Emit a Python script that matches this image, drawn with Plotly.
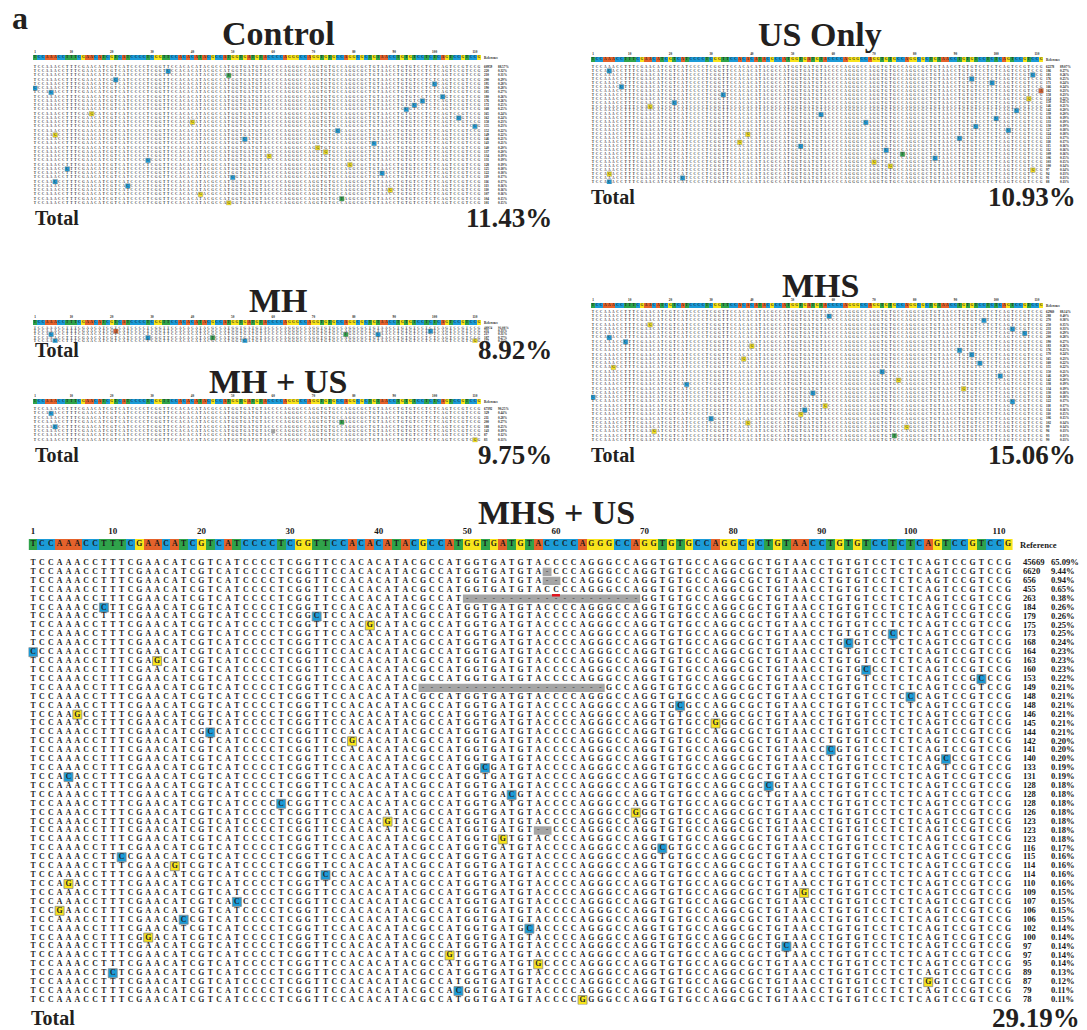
import plotly.graph_objects as go

W, H = 1087, 1030
FONT = "Liberation Serif"

# ------------------------------------------------------------------ data
REF_SEQ = ("TCCAAACCTTTCGAACATCGTCATCCCCTCGGTTCCACACATACGCCATG"
           "GTGATGTACCCCAGGGCCAGGTGTGCCAGGCGCTGTAACCTGTGTCCTCTCAGTCCGTCCG")
TICK_POS = [1, 10, 20, 30, 40, 50, 60, 70, 80, 90, 100, 110]

# MHS + US
mhsus_counts = [45669, 6620, 656, 455, 263, 184, 179, 175, 173, 168, 164, 163, 160, 153, 149,
                148, 148, 146, 145, 144, 142, 141, 140, 133, 131, 128, 128, 128, 126, 123,
                123, 123, 116, 115, 114, 114, 110, 109, 107, 106, 106, 102, 100, 97, 97,
                95, 89, 87, 79, 78]
mhsus_pcts = ["65.09%", "9.44%", "0.94%", "0.65%", "0.38%", "0.26%", "0.26%", "0.25%", "0.25%",
              "0.24%", "0.23%", "0.23%", "0.23%", "0.22%", "0.21%", "0.21%", "0.21%", "0.21%",
              "0.21%", "0.21%", "0.20%", "0.20%", "0.20%", "0.19%", "0.19%", "0.18%", "0.18%",
              "0.18%", "0.18%", "0.18%", "0.18%", "0.18%", "0.17%", "0.16%", "0.16%", "0.16%",
              "0.16%", "0.15%", "0.15%", "0.15%", "0.15%", "0.14%", "0.14%", "0.14%", "0.14%",
              "0.14%", "0.13%", "0.12%", "0.11%", "0.11%"]
mhsus_sub_rows = [6, 7, 8, 9, 10, 11, 12, 13, 14, 16, 17, 18, 19, 20, 21, 22, 23, 24, 25, 26,
                  27, 28, 29, 30, 32, 33, 34, 35, 36, 37, 38, 39, 40, 41, 42, 43, 44, 45, 46,
                  47, 48, 49, 50]
mhsus_sub_pos = [9, 33, 39, 98, 93, 1, 15, 95, 108, 100, 74, 6, 78, 21, 37, 91, 104, 52, 5, 84,
                 55, 29, 69, 41, 54, 72, 11, 17, 34, 5, 88, 24, 4, 18, 57, 14, 86, 48, 58,
                 10, 102, 49, 63]
mhsus_sub_base = ["C", "C", "G", "C", "C", "C", "G", "C", "C", "C", "C", "G", "G", "C", "G", "C",
                  "C", "C", "C", "C", "C", "C", "G", "G", "G", "C", "C", "G", "C", "G", "G", "C",
                  "G", "C", "C", "G", "C", "G", "G", "C", "G", "C", "G"]
mhsus_del_rows = [2, 3, 5, 15, 31]
mhsus_del_start = [59, 59, 50, 45, 58]
mhsus_del_end = [59, 60, 69, 65, 59]
mhsus_ins_rows = [4]
mhsus_ins_pos = [60]
mhsus_total = "29.19%"

# Control (approximate)
control_counts = [60959] + [220, 210, 200, 195, 190, 185, 180, 176, 172, 168, 165, 162, 158, 155,
                            152, 149, 146, 143, 140, 137, 134, 131, 128, 125, 122, 119, 116, 113,
                            110, 107, 104, 101]
control_pcts = ["88.57%"] + ["0.32%", "0.31%", "0.29%", "0.28%", "0.28%", "0.27%", "0.26%", "0.26%",
                             "0.25%", "0.25%", "0.24%", "0.24%", "0.23%", "0.23%", "0.22%", "0.22%",
                             "0.21%", "0.21%", "0.20%", "0.20%", "0.19%", "0.19%", "0.19%", "0.18%",
                             "0.18%", "0.17%", "0.17%", "0.16%", "0.16%", "0.16%", "0.15%", "0.15%"]
control_sub_rows = list(range(2, 34))
control_sub_pos = [34, 49, 21, 100, 1, 5, 102, 97, 95, 93, 15, 106, 40, 110, 76, 6, 53, 85, 71,
                   73, 59, 29, 79, 9, 87, 50, 6, 24, 89, 42, 77, 49]
control_sub_base = ["C", "T", "C", "C", "C", "C", "C", "C", "C", "C", "G", "C", "G", "C", "C", "G",
                    "C", "C", "G", "G", "G", "C", "G", "C", "C", "C", "C", "C", "G", "G", "T", "G"]
control_total = "11.43%"

# US Only (approximate)
usonly_counts = [62278] + [186, 181, 176, 171, 166, 162, 158, 154, 150, 146, 142, 139, 136, 133,
                           130, 127, 124, 121, 118, 115, 112, 109, 106, 103, 100, 97, 94, 91, 88]
usonly_pcts = ["89.07%"] + ["0.27%", "0.26%", "0.25%", "0.24%", "0.24%", "0.23%", "0.23%", "0.22%",
                            "0.21%", "0.21%", "0.20%", "0.20%", "0.19%", "0.19%", "0.19%", "0.18%",
                            "0.18%", "0.17%", "0.17%", "0.16%", "0.16%", "0.16%", "0.15%", "0.15%",
                            "0.14%", "0.14%", "0.13%", "0.13%", "0.13%"]
usonly_sub_rows = list(range(2, 31))
usonly_sub_pos = [5, 109, 94, 99, 8, 111, 33, 108, 21, 15, 105, 57, 100, 68, 95, 103, 39, 91, 37,
                  52, 73, 77, 85, 70, 74, 109, 5, 23, 5]
usonly_sub_base = ["C", "C", "C", "C", "C", "A", "C", "G", "C", "G", "C", "C", "C", "C", "C", "C",
                   "G", "C", "G", "C", "C", "T", "C", "G", "G", "G", "G", "C", "C"]
usonly_total = "10.93%"

# MH (approximate)
mh_counts = [48974, 231, 217, 187, 177]
mh_pcts = ["91.08%", "0.33%", "0.31%", "0.27%", "0.25%"]
mh_sub_rows = [2, 2, 3, 3, 3, 4, 4, 5, 5, 5]
mh_sub_pos = [21, 99, 5, 78, 86, 29, 45, 53, 110, 6]
mh_sub_base = ["A", "C", "C", "T", "C", "C", "T", "C", "G", "C"]
mh_total = "8.92%"

# MH + US (approximate)
mhus_counts = [67392, 329, 211, 200, 188, 143, 87, 83]
mhus_pcts = ["90.25%", "0.44%", "0.28%", "0.27%", "0.25%", "0.19%", "0.12%", "0.11%"]
mhus_sub_rows = [2, 4, 5, 8]
mhus_sub_pos = [5, 77, 6, 110]
mhus_sub_base = ["C", "T", "C", "G"]
mhus_del_rows = [6]
mhus_del_start = [60]
mhus_del_end = [60]
mhus_total = "9.75%"

# MHS (approximate)
mhs_counts = [62960] + [288, 270, 250, 233, 210, 200, 190, 183, 176, 170, 165, 160, 155, 150, 146,
                        142, 138, 134, 130, 126, 122, 118, 114, 110, 106, 102, 99, 96, 93, 90]
mhs_pcts = ["88.14%"] + ["0.40%", "0.38%", "0.35%", "0.33%", "0.29%", "0.28%", "0.27%", "0.26%",
                         "0.25%", "0.24%", "0.23%", "0.22%", "0.22%", "0.21%", "0.20%", "0.20%",
                         "0.19%", "0.19%", "0.18%", "0.18%", "0.17%", "0.17%", "0.16%", "0.15%",
                         "0.15%", "0.14%", "0.14%", "0.13%", "0.13%", "0.13%"]
mhs_sub_rows = list(range(2, 31))
mhs_sub_pos = [59, 97, 15, 104, 107, 5, 9, 40, 91, 94, 38, 96, 6, 72, 101, 76, 24, 92, 55, 1,
               104, 58, 53, 52, 30, 39, 78, 16, 75]
mhs_sub_base = ["C", "C", "G", "C", "C", "C", "C", "G", "C", "C", "G", "C", "G", "C", "C", "G", "C",
                "G", "C", "C", "C", "G", "C", "G", "C", "G", "G", "G", "T"]
mhs_total = "15.06%"

# ------------------------------------------------------------------ styles / layout
BASE_COLORS = {"A": "#E4622B", "C": "#1B9BD7", "G": "#F8E41B", "T": "#2FA34A"}
BASE_CODE = {"A": 0, "C": 1, "G": 2, "T": 3}
DEL_FILL = "#A5A5A5"

# pixel geometry of each panel
PANELS = [
    dict(name="Control", data="control", x1=35, xN=479, right=540, bar_top=55, bar_bot=60,
         tick_y=52, y1=67, yN=203, title_xy=(278, 33), total_y=218, total_x=33,
         pct_right=554, big=False),
    dict(name="US Only", data="usonly", x1=593, xN=1041, right=1085, bar_top=57, bar_bot=62,
         tick_y=54, y1=67, yN=182, title_xy=(820, 34), total_y=197, total_x=589,
         pct_right=1078, big=False),
    dict(name="MH", data="mh", x1=35, xN=479, right=540, bar_top=320, bar_bot=325, tick_y=317,
         y1=328, yN=341, title_xy=(278, 300), total_y=350, total_x=33, pct_right=554,
         big=False),
    dict(name="MH + US", data="mhus", x1=35, xN=479, right=540, bar_top=399, bar_bot=404,
         tick_y=396, y1=409, yN=440, title_xy=(278, 381), total_y=455, total_x=33,
         pct_right=554, big=False),
    dict(name="MHS", data="mhs", x1=593, xN=1041, right=1085, bar_top=303, bar_bot=308,
         tick_y=300, y1=312, yN=440, title_xy=(820, 286), total_y=455, total_x=589,
         pct_right=1078, big=False),
    dict(name="MHS + US", data="mhsus", x1=33, xN=1008, right=1086, bar_top=539, bar_bot=550,
         tick_y=532, y1=563, yN=1000, title_xy=(556, 512), total_y=1018, total_x=29,
         pct_right=1082, big=True),
]

DATA = {
    "control": dict(counts=control_counts, pcts=control_pcts, sr=control_sub_rows,
                    sp=control_sub_pos, sb=control_sub_base, dr=[], ds=[], de=[], ir=[], ip=[],
                    total=control_total),
    "usonly": dict(counts=usonly_counts, pcts=usonly_pcts, sr=usonly_sub_rows,
                   sp=usonly_sub_pos, sb=usonly_sub_base, dr=[], ds=[], de=[], ir=[], ip=[],
                   total=usonly_total),
    "mh": dict(counts=mh_counts, pcts=mh_pcts, sr=mh_sub_rows, sp=mh_sub_pos, sb=mh_sub_base,
               dr=[], ds=[], de=[], ir=[], ip=[], total=mh_total),
    "mhus": dict(counts=mhus_counts, pcts=mhus_pcts, sr=mhus_sub_rows, sp=mhus_sub_pos,
                 sb=mhus_sub_base, dr=mhus_del_rows, ds=mhus_del_start, de=mhus_del_end,
                 ir=[], ip=[], total=mhus_total),
    "mhs": dict(counts=mhs_counts, pcts=mhs_pcts, sr=mhs_sub_rows, sp=mhs_sub_pos,
                sb=mhs_sub_base, dr=[], ds=[], de=[], ir=[], ip=[], total=mhs_total),
    "mhsus": dict(counts=mhsus_counts, pcts=mhsus_pcts, sr=mhsus_sub_rows, sp=mhsus_sub_pos,
                  sb=mhsus_sub_base, dr=mhsus_del_rows, ds=mhsus_del_start, de=mhsus_del_end,
                  ir=mhsus_ins_rows, ip=mhsus_ins_pos, total=mhsus_total),
}

assert len(REF_SEQ) == 111

fig = go.Figure()
layout_axes = {}
shapes = []
annotations = []
L = len(REF_SEQ)
positions = list(range(1, L + 1))
cs = [[0, BASE_COLORS["A"]], [0.1667, BASE_COLORS["A"]], [0.1667, BASE_COLORS["C"]],
      [0.5, BASE_COLORS["C"]], [0.5, BASE_COLORS["G"]], [0.8333, BASE_COLORS["G"]],
      [0.8333, BASE_COLORS["T"]], [1, BASE_COLORS["T"]]]

for i, g in enumerate(PANELS):
    d = DATA[g["data"]]
    n = len(d["counts"])
    big = g["big"]
    xname = "x" if i == 0 else f"x{i + 1}"
    ybn = 2 * i + 1
    yrn = 2 * i + 2
    ybar = "y" if ybn == 1 else f"y{ybn}"
    yrow = f"y{yrn}"
    cw = (g["xN"] - g["x1"]) / (L - 1)
    rs = (g["yN"] - g["y1"]) / (n - 1)
    left_px = g["x1"] - cw / 2
    xmax = 0.5 + (g["right"] - left_px) / cw

    def px2x(px):
        return 0.5 + (px - left_px) / cw

    bh = g["bar_bot"] - g["bar_top"]
    bar_axis_top_px = g["tick_y"] - 8
    ybar_max = -0.5 + (g["bar_bot"] - bar_axis_top_px) / bh

    xkey = "xaxis" if i == 0 else f"xaxis{i + 1}"
    layout_axes[xkey] = dict(domain=[left_px / W, g["right"] / W], range=[0.5, xmax],
                             visible=False, anchor=yrow, fixedrange=True)
    layout_axes["yaxis" if ybn == 1 else f"yaxis{ybn}"] = dict(
        domain=[1 - g["bar_bot"] / H, 1 - bar_axis_top_px / H], range=[-0.5, ybar_max],
        visible=False, anchor=xname, fixedrange=True)
    layout_axes[f"yaxis{yrn}"] = dict(
        domain=[1 - (g["yN"] + rs / 2) / H, 1 - (g["y1"] - rs / 2) / H],
        range=[n + 0.5, 0.5], visible=False, anchor=xname, fixedrange=True)

    let_size = 7.8 if big else 3.5
    num_size = 8.6 if big else 3.3
    let_color = "#262626" if big else "#3a3a3a"

    # reference bar
    z = [[BASE_CODE[b] for b in REF_SEQ]]
    fig.add_trace(go.Heatmap(x=positions, y=[0], z=z, zmin=0, zmax=3, colorscale=cs,
                             showscale=False, hoverinfo="skip", xaxis=xname, yaxis=ybar))
    fig.add_trace(go.Scatter(x=positions, y=[0] * L, text=list(REF_SEQ), mode="text",
                             textfont=dict(family=FONT, size=let_size, color="#1a1a1a",
                                           weight="bold"),
                             hoverinfo="skip", xaxis=xname, yaxis=ybar))
    # tick numbers
    tick_yv = ((g["bar_top"] + g["bar_bot"]) / 2 - g["tick_y"]) / bh
    fig.add_trace(go.Scatter(x=TICK_POS, y=[tick_yv] * len(TICK_POS),
                             text=[str(t) for t in TICK_POS], mode="text",
                             textfont=dict(family=FONT, size=9 if big else 3.3, color="#1a1a1a",
                                           weight="bold"),
                             hoverinfo="skip", xaxis=xname, yaxis=ybar))
    # "Reference" label
    ref_x = px2x(g["xN"] + (12 if big else 5))
    fig.add_trace(go.Scatter(x=[ref_x], y=[-0.15], text=["Reference"], mode="text",
                             textposition="middle right",
                             textfont=dict(family=FONT, size=num_size, color="#1a1a1a",
                                           weight="bold"),
                             hoverinfo="skip", xaxis=xname, yaxis=ybar))

    # deletions (shapes in data coords) and dashes
    dash_x, dash_y = [], []
    deleted = set()
    for r, s, e in zip(d["dr"], d["ds"], d["de"]):
        shapes.append(dict(type="rect", xref=xname, yref=yrow, x0=s - 0.5, x1=e + 0.5,
                           y0=r - 0.47, y1=r + 0.47, fillcolor=DEL_FILL,
                           line=dict(width=0), layer="below"))
        for p in range(s, e + 1):
            deleted.add((r, p))
            dash_x.append(p)
            dash_y.append(r)
    for r, p in zip(d["ir"], d["ip"]):
        shapes.append(dict(type="line", xref=xname, yref=yrow, x0=p - 0.45, x1=p + 0.45,
                           y0=r + 0.62, y1=r + 0.62, line=dict(color="#E0141E", width=2.5)))

    # substitution highlights
    subs = {(r, p): b for r, p, b in zip(d["sr"], d["sp"], d["sb"])}
    fig.add_trace(go.Scatter(x=d["sp"], y=d["sr"], mode="markers",
                             marker=dict(symbol="square", size=9 if big else 4.6,
                                         color=[BASE_COLORS[b] for b in d["sb"]],
                                         line=dict(color="#8a8a8a", width=0.8 if big else 0.4)),
                             hoverinfo="skip", xaxis=xname, yaxis=yrow))

    # row letters
    xs, ys, ts = [], [], []
    for r in range(1, n + 1):
        for p in positions:
            if (r, p) in deleted:
                continue
            xs.append(p)
            ys.append(r)
            ts.append(subs.get((r, p), REF_SEQ[p - 1]))
    fig.add_trace(go.Scatter(x=xs, y=ys, text=ts, mode="text",
                             textfont=dict(family=FONT, size=let_size, color=let_color,
                                           weight="bold"),
                             hoverinfo="skip", xaxis=xname, yaxis=yrow))
    if dash_x:
        fig.add_trace(go.Scatter(x=dash_x, y=dash_y, text=["-"] * len(dash_x), mode="text",
                                 textfont=dict(family=FONT, size=let_size, color="#555555",
                                               weight="bold"),
                                 hoverinfo="skip", xaxis=xname, yaxis=yrow))

    # count / percent columns
    cnt_x = px2x(g["xN"] + (15 if big else 5))
    pct_x = px2x(g["xN"] + (43 if big else 19))
    rows = list(range(1, n + 1))
    fig.add_trace(go.Scatter(x=[cnt_x] * n, y=rows, text=[str(c) for c in d["counts"]],
                             mode="text", textposition="middle right",
                             textfont=dict(family=FONT, size=num_size, color="#1a1a1a",
                                           weight="bold"),
                             hoverinfo="skip", xaxis=xname, yaxis=yrow))
    fig.add_trace(go.Scatter(x=[pct_x] * n, y=rows, text=d["pcts"],
                             mode="text", textposition="middle right",
                             textfont=dict(family=FONT, size=num_size, color="#1a1a1a",
                                           weight="bold"),
                             hoverinfo="skip", xaxis=xname, yaxis=yrow))

    # titles and totals
    tx, ty = g["title_xy"]
    annotations.append(dict(text=g["name"], x=tx / W, y=1 - ty / H, xref="paper", yref="paper",
                            xanchor="center", yanchor="middle", showarrow=False,
                            font=dict(family=FONT, size=34, color="#231f20", weight="bold")))
    annotations.append(dict(text="Total", x=g["total_x"] / W, y=1 - g["total_y"] / H,
                            xref="paper", yref="paper", xanchor="left", yanchor="middle",
                            showarrow=False,
                            font=dict(family=FONT, size=20, color="#231f20", weight="bold")))
    annotations.append(dict(text=d["total"], x=g["pct_right"] / W, y=1 - g["total_y"] / H,
                            xref="paper", yref="paper", xanchor="right", yanchor="middle",
                            showarrow=False,
                            font=dict(family=FONT, size=27, color="#231f20", weight="bold")))

annotations.append(dict(text="a", x=10 / W, y=1 - 18 / H, xref="paper", yref="paper",
                        xanchor="left", yanchor="middle", showarrow=False,
                        font=dict(family=FONT, size=32, color="#231f20", weight="bold")))

fig.update_layout(width=W, height=H, margin=dict(l=0, r=0, t=0, b=0),
                  paper_bgcolor="white", plot_bgcolor="rgba(0,0,0,0)", showlegend=False,
                  shapes=shapes, annotations=annotations, **layout_axes)
fig.write_html("out.html", config={"displayModeBar": False})
